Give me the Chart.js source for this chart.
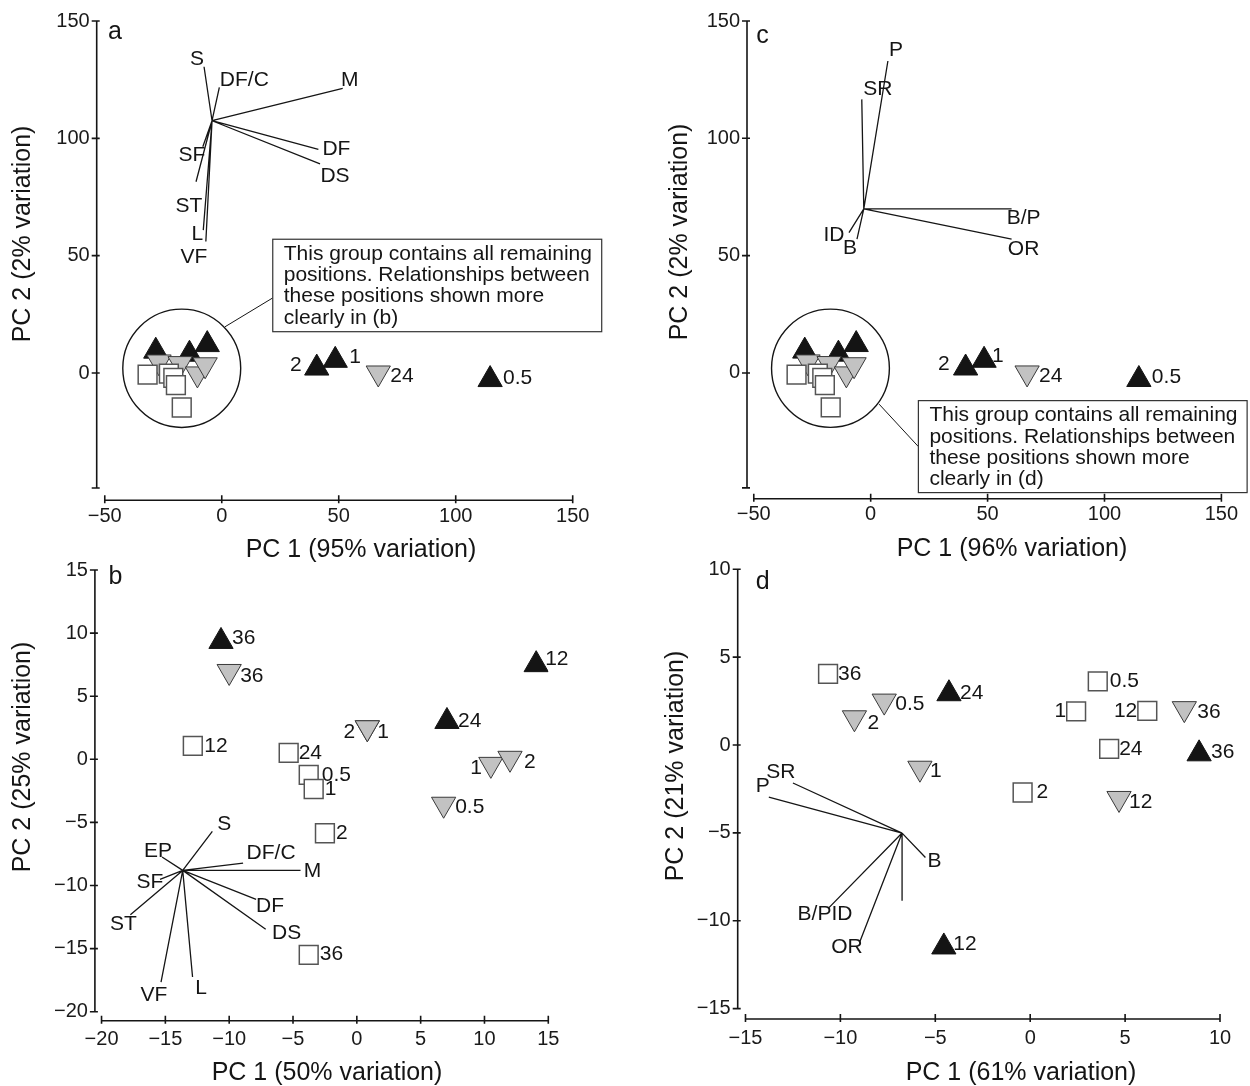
<!DOCTYPE html>
<html>
<head>
<meta charset="utf-8">
<script src="https://cdn.jsdelivr.net/npm/chart.js@4.4.1/dist/chart.umd.min.js"></script>
<style>
  body { margin: 0; background: #fff; }
  #wrap { position: relative; width: 1250px; height: 1086px; }
  #wrap canvas { position: absolute; left: 0; top: 0; }
</style>
</head>
<body>
<div id="wrap">
  <canvas id="pa" width="1250" height="1086"></canvas>
  <canvas id="pb" width="1250" height="1086"></canvas>
  <canvas id="pc" width="1250" height="1086"></canvas>
  <canvas id="pd" width="1250" height="1086"></canvas>
</div>
<script>
var FONT = "'Liberation Sans', Arial, Helvetica, sans-serif";
var INK = '#151515';

// ---- panel a (PCA, 95% / 2%) ----
var aXTicks = [-50, 0, 50, 100, 150];
var aYTicks = [0, 50, 100, 150];
var aBlackX = [-28.2, -13.8, -6.2, 40.6, 48.5, 114.7];
var aBlackY = [9.3, 8.0, 12.1, 2.1, 5.4, -2.8];
var aBlackLab = ['', '', '', '2', '1', '0.5'];
var aGreyX = [-26.8, -17.8, -10.4, -7.1, 66.9];
var aGreyY = [4.7, 4.0, -0.4, 3.5, 0.0];
var aGreyLab = ['', '', '', '', '24'];
var aOpenX = [-31.7, -22.6, -20.7, -19.6, -17.1];
var aOpenY = [-0.7, -0.3, -2.1, -5.2, -14.7];
var aOpenLab = ['', '', '', '', ''];
var aVecOrigin = [-4.15, 107.5];
var aVecX = [-7.57, -1.03, 51.7, 41.3, 42.0, -8.1, -11.0, -7.9, -6.8];
var aVecY = [130.5, 121.7, 121.3, 95.3, 89.1, 96.4, 81.5, 60.9, 56.0];
var aVecLab = ['S', 'DF/C', 'M', 'DF', 'DS', 'SF', 'ST', 'L', 'VF'];

// ---- panel b (PCA, 50% / 25%) ----
var bXTicks = [-20, -15, -10, -5, 0, 5, 10, 15];
var bYTicks = [-20, -15, -10, -5, 0, 5, 10, 15];
var bBlackX = [-10.64, 7.06, 14.05];
var bBlackY = [9.34, 3.0, 7.5];
var bBlackLab = ['36', '24', '12'];
var bGreyX = [-10.0, 0.82, 0.82, 10.5, 12.0, 6.8];
var bGreyY = [6.96, 2.5, 2.5, -0.4, 0.08, -3.56];
var bGreyLab = ['36', '2', '1', '1', '2', '0.5'];
var bOpenX = [-12.85, -5.34, -3.77, -3.38, -2.5, -3.77];
var bOpenY = [1.07, 0.51, -1.23, -2.35, -5.86, -15.5];
var bOpenLab = ['12', '24', '0.5', '1', '2', '36'];
var bVecOrigin = [-13.64, -8.80];
var bVecX = [-11.32, -15.26, -8.91, -4.41, -15.42, -7.89, -7.14, -17.74, -15.34, -12.87];
var bVecY = [-5.71, -7.74, -8.22, -8.80, -9.51, -11.09, -13.47, -12.31, -17.65, -17.25];
var bVecLab = ['S', 'EP', 'DF/C', 'M', 'SF', 'DF', 'DS', 'ST', 'VF', 'L'];

// ---- panel c (PCA, 96% / 2%) ----
var cXTicks = [-50, 0, 50, 100, 150];
var cYTicks = [0, 50, 100, 150];
var cBlackX = [-28.2, -13.8, -6.2, 40.6, 48.5, 114.7];
var cBlackY = [9.3, 8.0, 12.1, 2.1, 5.4, -2.8];
var cBlackLab = ['', '', '', '2', '1', '0.5'];
var cGreyX = [-26.8, -17.8, -10.4, -7.1, 66.9];
var cGreyY = [4.7, 4.0, -0.4, 3.5, 0.0];
var cGreyLab = ['', '', '', '', '24'];
var cOpenX = [-31.7, -22.6, -20.7, -19.6, -17.1];
var cOpenY = [-0.7, -0.3, -2.1, -5.2, -14.7];
var cOpenLab = ['', '', '', '', ''];
var cVecOrigin = [-2.95, 69.9];
var cVecX = [7.36, -3.81, 60.27, 60.27, -9.28, -5.86];
var cVecY = [132.95, 116.6, 69.9, 57.0, 59.8, 57.0];
var cVecLab = ['P', 'SR', 'B/P', 'OR', 'ID', 'B'];

// ---- panel d (PCA, 61% / 21%) ----
var dXTicks = [-15, -10, -5, 0, 5, 10];
var dYTicks = [-15, -10, -5, 0, 5, 10];
var dBlackX = [-4.28, 8.9, -4.55];
var dBlackY = [2.92, -0.5, -11.49];
var dBlackLab = ['24', '36', '12'];
var dGreyX = [-7.69, -9.26, 8.12, -5.81, 4.68];
var dGreyY = [2.5, 1.55, 2.07, -1.32, -3.04];
var dGreyLab = ['0.5', '2', '36', '1', '12'];
var dOpenX = [-10.65, 3.56, 2.42, 6.17, 4.16, -0.4];
var dOpenY = [4.05, 3.62, 1.91, 1.94, -0.22, -2.7];
var dOpenLab = ['36', '0.5', '1', '12', '24', '2'];
var dVecOrigin = [-6.75, -5.01];
var dVecX = [-5.52, -10.60, -8.97, -6.75, -12.50, -13.77];
var dVecY = [-6.40, -9.25, -11.18, -8.86, -2.16, -2.96];
var dVecLab = ['B', 'B/PID', 'OR', '', 'SR', 'P'];

var noteA = ['This group contains all remaining', 'positions. Relationships between', 'these positions shown more', 'clearly in (b)'];
var noteC = ['This group contains all remaining', 'positions. Relationships between', 'these positions shown more', 'clearly in (d)'];

Chart.defaults.font.family = FONT;

function minus(v) { return v < 0 ? '\u2212' + Math.abs(v) : String(v); }

function pts(xs, ys) {
    return xs.map(function (x, i) { return { x: x, y: ys[i] }; });
}

function text(ctx, s, x, y, size, align) {
    ctx.font = size + 'px ' + FONT;
    ctx.textAlign = align || 'center';
    ctx.textBaseline = 'middle';
    ctx.fillText(s, x, y);
}

function axis(range, ticks, pad, dir) {
    return {
        type: 'linear', min: range[0], max: range[1], bounds: 'data',
        afterBuildTicks: function (s) { s.ticks = ticks.map(function (v) { return { value: v }; }); },
        afterFit: function (s) { if (dir === 'x') { s.height = 60; } else { s.width = 60; } },
        grid: { display: false, drawTicks: false },
        border: { display: false },
        ticks: {
            padding: pad, color: '#1a1a1a', font: { size: 20 }, autoSkip: false, maxRotation: 0,
            callback: function (v) { return minus(v); }
        }
    };
}

function biplot(p) {
    return {
        id: 'biplot_' + p.letter,
        beforeDatasetsDraw: function (chart) {
            var ctx = chart.ctx, sx = chart.scales.x, sy = chart.scales.y, area = chart.chartArea;
            var X = function (v) { return sx.getPixelForValue(v); };
            var Y = function (v) { return sy.getPixelForValue(v); };
            ctx.save();
            ctx.strokeStyle = INK;
            ctx.lineWidth = 1.6;
            ctx.beginPath();
            var yb = area.bottom, xl = area.left;
            ctx.moveTo(X(p.xTicks[0]), yb);
            ctx.lineTo(X(p.xTicks[p.xTicks.length - 1]), yb);
            p.xTicks.forEach(function (v) { ctx.moveTo(X(v), yb - 5); ctx.lineTo(X(v), yb + 3); });
            ctx.moveTo(xl, Y(p.yEnd));
            ctx.lineTo(xl, Y(p.yTicks[p.yTicks.length - 1]));
            p.yTicks.concat([p.yEnd]).forEach(function (v) { ctx.moveTo(xl - 5, Y(v)); ctx.lineTo(xl + 3, Y(v)); });
            ctx.stroke();

            // loading vectors
            ctx.lineWidth = 1.3;
            ctx.beginPath();
            p.vecX.forEach(function (vx, i) {
                ctx.moveTo(X(p.origin[0]), Y(p.origin[1]));
                ctx.lineTo(X(vx), Y(p.vecY[i]));
            });
            ctx.stroke();

            if (p.ring) {
                var r = p.ring;
                var cx = X(r[0]), cy = Y(r[1]);
                ctx.lineWidth = 1.4;
                ctx.beginPath();
                ctx.ellipse(cx, cy, Math.abs(X(r[0] + r[2]) - cx), Math.abs(Y(r[1] + r[2]) - cy), 0, 0, Math.PI * 2);
                ctx.stroke();
                ctx.lineWidth = 1;
                ctx.beginPath();
                ctx.moveTo(X(p.link[0]), Y(p.link[1]));
                ctx.lineTo(X(p.link[2]), Y(p.link[3]));
                ctx.stroke();
            }
            ctx.restore();
        },
        afterDatasetsDraw: function (chart) {
            var ctx = chart.ctx, sx = chart.scales.x, sy = chart.scales.y;
            var X = function (v) { return sx.getPixelForValue(v); };
            var Y = function (v) { return sy.getPixelForValue(v); };
            ctx.save();
            ctx.fillStyle = INK;

            // point labels
            [[p.blackX, p.blackY, p.blackLab, p.blackOff],
             [p.greyX, p.greyY, p.greyLab, p.greyOff],
             [p.openX, p.openY, p.openLab, p.openOff]].forEach(function (g) {
                g[2].forEach(function (lab, i) {
                    if (!lab) return;
                    var o = g[3][i];
                    text(ctx, lab, X(g[0][i]) + o[0], Y(g[1][i]) + o[1], 21, o[0] < 0 ? 'right' : 'left');
                });
            });

            // vector labels
            p.vecLab.forEach(function (lab, i) {
                if (!lab) return;
                var o = p.vecOff[i];
                text(ctx, lab, X(p.vecX[i]) + o[0], Y(p.vecY[i]) + o[1], 21);
            });

            // note box
            if (p.box) {
                var b = p.box;
                var l = X(b[0]), r = X(b[1]), t = Y(b[3]), btm = Y(b[2]);
                ctx.fillStyle = '#fff';
                ctx.fillRect(l, t, r - l, btm - t);
                ctx.strokeStyle = '#333';
                ctx.lineWidth = 1.2;
                ctx.strokeRect(l, t, r - l, btm - t);
                ctx.fillStyle = INK;
                p.note.forEach(function (line, i) {
                    text(ctx, line, l + 11, t + 15 + i * 21.2, 21, 'left');
                });
            }

            // titles and panel letter
            text(ctx, p.xTitle, p.xTitlePos[0], p.xTitlePos[1], 25);
            ctx.save();
            ctx.translate(p.yTitlePos[0], p.yTitlePos[1]);
            ctx.rotate(-Math.PI / 2);
            text(ctx, p.yTitle, 0, 0, 25);
            ctx.restore();
            text(ctx, p.letter, p.letterPos[0], p.letterPos[1], 25);
            ctx.restore();
        }
    };
}

function makeChart(id, p) {
    var sets = [
        { data: pts(p.openX, p.openY), pointStyle: 'rect', pointRadius: 13.3,
          pointBackgroundColor: '#ffffff', pointBorderColor: '#555555', pointBorderWidth: 1.5 },
        { data: pts(p.greyX, p.greyY), pointStyle: 'triangle', pointRotation: 180, pointRadius: 14,
          pointBackgroundColor: '#c2c2c2', pointBorderColor: '#3a3a3a', pointBorderWidth: 1 },
        { data: pts(p.blackX, p.blackY), pointStyle: 'triangle', pointRadius: 14,
          pointBackgroundColor: '#141414', pointBorderColor: '#141414', pointBorderWidth: 1 }
    ];
    return new Chart(document.getElementById(id), {
        type: 'scatter',
        data: { datasets: sets },
        options: {
            responsive: false,
            animation: false,
            events: [],
            layout: { padding: p.pad },
            plugins: { legend: { display: false }, tooltip: { enabled: false } },
            scales: {
                x: axis(p.xRange, p.xTicks, p.xPad, 'x'),
                y: axis(p.yRange, p.yTicks, 7, 'y')
            }
        },
        plugins: [biplot(p)]
    });
}

makeChart('pa', {
    letter: 'a', letterPos: [115, 32],
    pad: { left: 36.7, right: 677.3, top: 21, bottom: 525.7 },
    xRange: [-53.45, 150], yRange: [-54.25, 150], xPad: 4,
    xTicks: aXTicks, yTicks: aYTicks, yEnd: -49,
    blackX: aBlackX, blackY: aBlackY, blackLab: aBlackLab,
    blackOff: [[0, 0], [0, 0], [0, 0], [-15, -3], [14, -3], [13, -1.5]],
    greyX: aGreyX, greyY: aGreyY, greyLab: aGreyLab,
    greyOff: [[0, 0], [0, 0], [0, 0], [0, 0], [12, 3]],
    openX: aOpenX, openY: aOpenY, openLab: aOpenLab, openOff: [[0, 0], [0, 0], [0, 0], [0, 0], [0, 0]],
    origin: aVecOrigin, vecX: aVecX, vecY: aVecY, vecLab: aVecLab,
    vecOff: [[-7, -8], [25, -7], [7, -8], [18, 0], [15, 12], [-11, 8], [-7, 24], [-6, 4], [-12, 16]],
    ring: [-17.1, 2.0, 25.2],
    link: [1.4, 19.7, 21.8, 32.0],
    box: [21.8, 162.4, 17.6, 57.0], note: noteA,
    xTitle: 'PC 1 (95% variation)', xTitlePos: [361, 550],
    yTitle: 'PC 2 (2% variation)', yTitlePos: [23, 234]
});

makeChart('pb', {
    letter: 'b', letterPos: [115.4, 577],
    pad: { left: 34.9, right: 701.7, top: 570, bottom: 5.3 },
    xRange: [-20.52, 15], yRange: [-20.71, 15], xPad: 7,
    xTicks: bXTicks, yTicks: bYTicks, yEnd: -20,
    blackX: bBlackX, blackY: bBlackY, blackLab: bBlackLab,
    blackOff: [[11, -3], [11, 0], [9, -5]],
    greyX: bGreyX, greyY: bGreyY, greyLab: bGreyLab,
    greyOff: [[11, 5], [-12, 4], [10, 4], [-9, 4], [14, 4], [11.5, 3]],
    openX: bOpenX, openY: bOpenY, openLab: bOpenLab,
    openOff: [[11.5, 0], [10, 0], [13, 0], [11, 0], [11, 0], [11, -1]],
    origin: bVecOrigin, vecX: bVecX, vecY: bVecY, vecLab: bVecLab,
    vecOff: [[12, -7], [-4, -6], [28, -10], [12, 1], [-10, 3], [14, 7], [21, 4], [-7, 10], [-7, 13], [8.5, 11]],
    xTitle: 'PC 1 (50% variation)', xTitlePos: [327, 1073],
    yTitle: 'PC 2 (25% variation)', yTitlePos: [23, 757]
});

makeChart('pc', {
    letter: 'c', letterPos: [762.6, 36],
    pad: { left: 687, right: 28.6, top: 21, bottom: 527.3 },
    xRange: [-52.9, 150], yRange: [-53.6, 150], xPad: 4,
    xTicks: cXTicks, yTicks: cYTicks, yEnd: -49,
    blackX: cBlackX, blackY: cBlackY, blackLab: cBlackLab,
    blackOff: [[0, 0], [0, 0], [0, 0], [-16, -4], [8, -4], [13, -2]],
    greyX: cGreyX, greyY: cGreyY, greyLab: cGreyLab,
    greyOff: [[0, 0], [0, 0], [0, 0], [0, 0], [12, 3]],
    openX: cOpenX, openY: cOpenY, openLab: cOpenLab, openOff: [[0, 0], [0, 0], [0, 0], [0, 0], [0, 0]],
    origin: cVecOrigin, vecX: cVecX, vecY: cVecY, vecLab: cVecLab,
    vecOff: [[8, -10.5], [16, -10], [12, 9], [12, 10], [-15, 3], [-7, 9]],
    ring: [-17.2, 2.0, 25.2],
    link: [3.6, -13.3, 20.4, -31.4],
    box: [20.4, 161, -51.0, -11.8], note: noteC,
    xTitle: 'PC 1 (96% variation)', xTitlePos: [1012, 549],
    yTitle: 'PC 2 (2% variation)', yTitlePos: [680, 232]
});

makeChart('pd', {
    letter: 'd', letterPos: [762.6, 582],
    pad: { left: 677.7, right: 30, top: 569.3, bottom: 7 },
    xRange: [-15.41, 10], yRange: [-15.59, 10], xPad: 7,
    xTicks: dXTicks, yTicks: dYTicks, yEnd: -15,
    blackX: dBlackX, blackY: dBlackY, blackLab: dBlackLab,
    blackOff: [[11, -1], [12, -2], [9.5, -3]],
    greyX: dGreyX, greyY: dGreyY, greyLab: dGreyLab,
    greyOff: [[11, 3], [13, 5], [13, 4], [10, 3], [10, 4]],
    openX: dOpenX, openY: dOpenY, openLab: dOpenLab,
    openOff: [[10, 0], [12, 0], [-10, 0], [-10, 0], [10, 0], [14, 0]],
    origin: dVecOrigin, vecX: dVecX, vecY: dVecY, vecLab: dVecLab,
    vecOff: [[9, 4], [-4, 7], [-13, 6], [0, 0], [-12, -11], [-6, -11]],
    xTitle: 'PC 1 (61% variation)', xTitlePos: [1021, 1073],
    yTitle: 'PC 2 (21% variation)', yTitlePos: [676, 766]
});
</script>
</body>
</html>
